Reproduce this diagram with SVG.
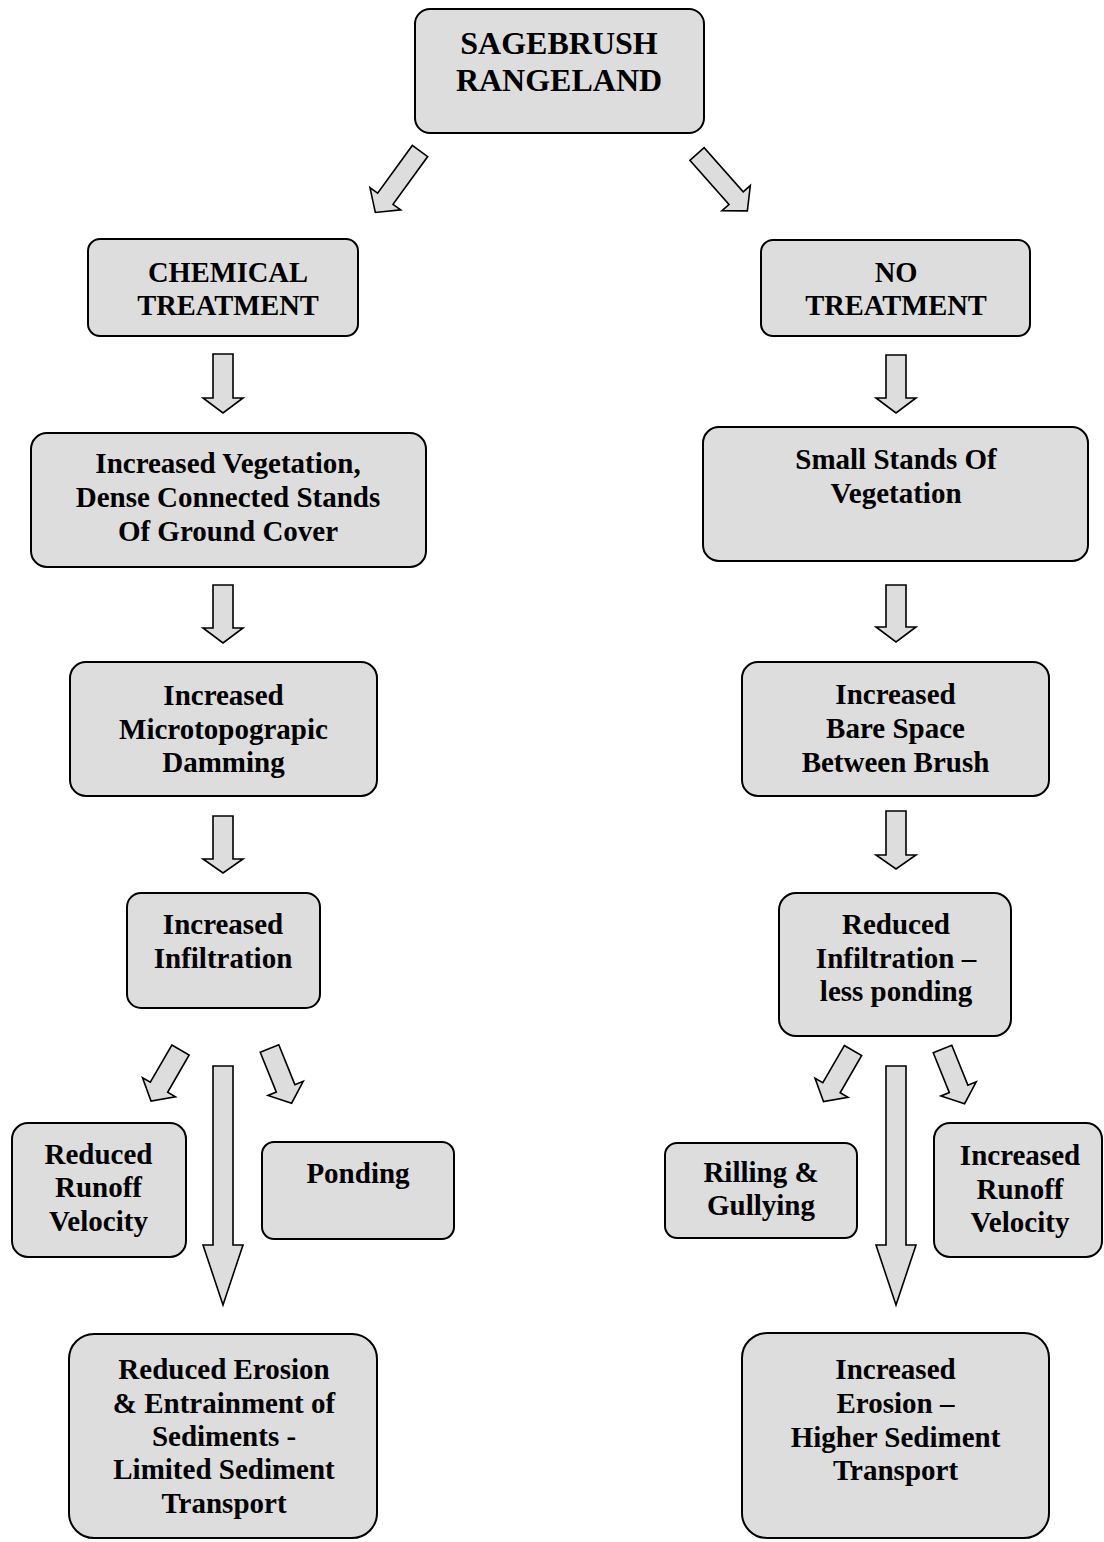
<svg xmlns="http://www.w3.org/2000/svg" xmlns:xlink="http://www.w3.org/1999/xlink" width="1104" height="1542" viewBox="0 0 1104 1542">
  <style>
    .box { fill: #dddddd; stroke: #000000; stroke-width: 2; }
    .arrow { fill: #dddddd; stroke: #000000; stroke-width: 1.6; stroke-linejoin: miter; }
    .lbl { font-family: "Liberation Serif", "Times New Roman", serif; font-weight: bold; font-size: 29px; fill: #000000; text-anchor: middle; }
    .big { font-size: 32px; }
    .mid { font-size: 28.5px; }
  </style>
  <defs>
    <!-- block arrows drawn pointing down, tail centre at the origin -->
    <path id="arrShort" d="M -10 0 L 10 0 L 10 43 L 19 43 L 0 59 L -19 43 L -10 43 Z"/>
    <path id="arrTop" d="M -9.5 0 L 9.5 0 L 9.5 59 L 19 59 L 0 76 L -19 59 L -9.5 59 Z"/>
  </defs>

  <rect width="1104" height="1542" fill="#ffffff"/>

  <g id="connectors">
    <!-- root split -->
    <use xlink:href="#arrTop" class="arrow" transform="translate(420,151) rotate(36)"/>
    <use xlink:href="#arrTop" class="arrow" transform="translate(697,154) rotate(-41.5)"/>
    <!-- left column -->
    <path class="arrow" d="M 213 354 L 233 354 L 233 398 L 243 398 L 223 413 L 203 398 L 213 398 Z"/>
    <path class="arrow" d="M 213 585 L 233 585 L 233 628 L 243 628 L 223 643 L 203 628 L 213 628 Z"/>
    <path class="arrow" d="M 213 816 L 233 816 L 233 859 L 243 859 L 223 873 L 203 859 L 213 859 Z"/>
    <use xlink:href="#arrShort" class="arrow" transform="translate(180.5,1050) rotate(30)"/>
    <use xlink:href="#arrShort" class="arrow" transform="translate(269.5,1048.5) rotate(-22)"/>
    <path class="arrow" d="M 213 1066 L 233 1066 L 233 1245 L 243 1245 L 223 1305 L 203 1245 L 213 1245 Z"/>
    <!-- right column -->
    <path class="arrow" d="M 886 355 L 906 355 L 906 398 L 916 398 L 896 413 L 876 398 L 886 398 Z"/>
    <path class="arrow" d="M 886 585 L 906 585 L 906 627 L 916 627 L 896 642 L 876 627 L 886 627 Z"/>
    <path class="arrow" d="M 886 811 L 906 811 L 906 855 L 916 855 L 896 869 L 876 855 L 886 855 Z"/>
    <use xlink:href="#arrShort" class="arrow" transform="translate(853,1050.5) rotate(30)"/>
    <use xlink:href="#arrShort" class="arrow" transform="translate(942.5,1049) rotate(-22)"/>
    <path class="arrow" d="M 886 1066 L 906 1066 L 906 1245 L 916 1245 L 896 1305 L 876 1245 L 886 1245 Z"/>
  </g>

  <g id="sagebrush-rangeland">
    <rect class="box" x="415" y="9" width="289" height="124" rx="15"/>
    <text class="lbl big" x="559" y="54">SAGEBRUSH</text>
    <text class="lbl big" x="559" y="91">RANGELAND</text>
  </g>

  <g id="chemical-treatment">
    <rect class="box" x="88" y="239" width="270" height="97" rx="12"/>
    <text class="lbl mid" x="228" y="282">CHEMICAL</text>
    <text class="lbl mid" x="228" y="315">TREATMENT</text>
  </g>

  <g id="no-treatment">
    <rect class="box" x="761" y="240" width="269" height="96" rx="12"/>
    <text class="lbl mid" x="896" y="282">NO</text>
    <text class="lbl mid" x="896" y="315">TREATMENT</text>
  </g>

  <g id="increased-vegetation">
    <rect class="box" x="31" y="433" width="395" height="134" rx="16"/>
    <text class="lbl" x="228" y="473">Increased Vegetation,</text>
    <text class="lbl" x="228" y="507">Dense Connected Stands</text>
    <text class="lbl" x="228" y="541">Of Ground Cover</text>
  </g>

  <g id="small-stands">
    <rect class="box" x="703" y="427" width="385" height="134" rx="16"/>
    <text class="lbl" x="896" y="469">Small Stands Of</text>
    <text class="lbl" x="896" y="503">Vegetation</text>
  </g>

  <g id="microtopographic-damming">
    <rect class="box" x="70" y="662" width="307" height="134" rx="16"/>
    <text class="lbl" x="223.5" y="705">Increased</text>
    <text class="lbl" x="223.5" y="738.5">Microtopograpic</text>
    <text class="lbl" x="223.5" y="772">Damming</text>
  </g>

  <g id="bare-space">
    <rect class="box" x="742" y="662" width="307" height="134" rx="16"/>
    <text class="lbl" x="895.5" y="704">Increased</text>
    <text class="lbl" x="895.5" y="737.5">Bare Space</text>
    <text class="lbl" x="895.5" y="771.5">Between Brush</text>
  </g>

  <g id="increased-infiltration">
    <rect class="box" x="127" y="893" width="193" height="115" rx="14"/>
    <text class="lbl" x="223" y="934">Increased</text>
    <text class="lbl" x="223" y="968">Infiltration</text>
  </g>

  <g id="reduced-infiltration">
    <rect class="box" x="779" y="893" width="232" height="143" rx="17"/>
    <text class="lbl" x="896" y="934">Reduced</text>
    <text class="lbl" x="896" y="967.5">Infiltration –</text>
    <text class="lbl" x="896" y="1001">less ponding</text>
  </g>

  <g id="reduced-runoff">
    <rect class="box" x="12" y="1123" width="174" height="134" rx="16"/>
    <text class="lbl" x="98.5" y="1163.5">Reduced</text>
    <text class="lbl" x="98.5" y="1197">Runoff</text>
    <text class="lbl" x="98.5" y="1231">Velocity</text>
  </g>

  <g id="ponding">
    <rect class="box" x="262" y="1142" width="192" height="97" rx="12"/>
    <text class="lbl" x="358" y="1183">Ponding</text>
  </g>

  <g id="rilling-gullying">
    <rect class="box" x="665" y="1143" width="192" height="95" rx="12"/>
    <text class="lbl" x="761" y="1182">Rilling &amp;</text>
    <text class="lbl" x="761" y="1215">Gullying</text>
  </g>

  <g id="increased-runoff">
    <rect class="box" x="934" y="1123" width="168" height="134" rx="16"/>
    <text class="lbl" x="1020" y="1165">Increased</text>
    <text class="lbl" x="1020" y="1198.5">Runoff</text>
    <text class="lbl" x="1020" y="1232">Velocity</text>
  </g>

  <g id="reduced-erosion">
    <rect class="box" x="69" y="1334" width="308" height="204" rx="25"/>
    <text class="lbl" x="224" y="1379">Reduced Erosion</text>
    <text class="lbl" x="224" y="1412.5">&amp; Entrainment of</text>
    <text class="lbl" x="224" y="1446">Sediments -</text>
    <text class="lbl" x="224" y="1479">Limited Sediment</text>
    <text class="lbl" x="224" y="1512.5">Transport</text>
  </g>

  <g id="increased-erosion">
    <rect class="box" x="742" y="1333" width="307" height="205" rx="25"/>
    <text class="lbl" x="895.5" y="1379">Increased</text>
    <text class="lbl" x="895.5" y="1412.5">Erosion –</text>
    <text class="lbl" x="895.5" y="1446.5">Higher Sediment</text>
    <text class="lbl" x="895.5" y="1480">Transport</text>
  </g>
</svg>
